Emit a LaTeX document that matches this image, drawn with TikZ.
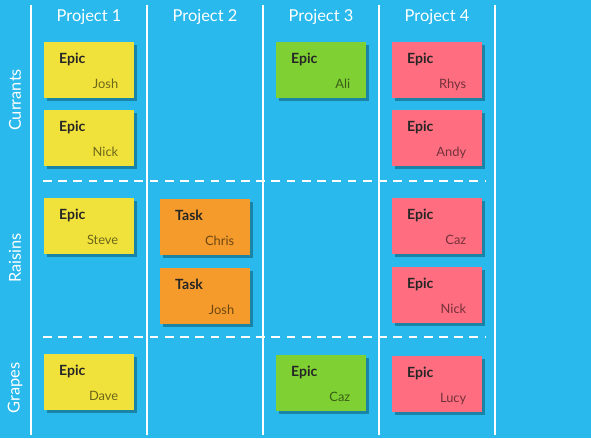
\documentclass[tikz,border=0pt]{standalone}
\usepackage{fontspec}
\setmainfont{Lato}
\usetikzlibrary{shadows}

\definecolor{boardblue}{HTML}{29B9EC}
\definecolor{shadowblue}{HTML}{1A84A6}
\definecolor{epicyellow}{HTML}{F1E23B}
\definecolor{taskorange}{HTML}{F59B2B}
\definecolor{epicgreen}{HTML}{7FD133}
\definecolor{epicpink}{HTML}{FF6E80}

\tikzset{
  card/.style={
    rectangle, anchor=north west, inner sep=0pt,
    minimum width=2.7cm, minimum height=1.68cm,
    drop shadow={shadow xshift=2.5pt, shadow yshift=-2.5pt,
      opacity=1, fill=shadowblue}
  },
  kindlabel/.style={anchor=base west, inner sep=0pt,
    font=\fontsize{12}{14}\selectfont\bfseries, text=black!85},
  wholabel/.style={anchor=base east, inner sep=0pt,
    font=\fontsize{11}{13}\selectfont},
  heading/.style={anchor=base, inner sep=0pt, text=white,
    font=\fontsize{14}{16}\selectfont},
  rowlabel/.style={rotate=90, inner sep=0pt, text=white,
    font=\fontsize{14}{16}\selectfont},
  lane/.style={white, line width=2.4pt},
  swim/.style={white, line width=1.6pt, dash pattern=on 7.5pt off 5.5pt}
}

\begin{document}
\begin{tikzpicture}[
  x=0.03cm,
  y=-0.03cm
]

%--------------------
% Fondo
%--------------------
\fill[boardblue] (0,0) rectangle (591,438);
\useasboundingbox (0,0) rectangle (591,438);

%--------------------
% Columnas
%--------------------
\foreach \lx [count=\i] in {31,147,263,379,495} {
  \coordinate (top\i) at (\lx,5);
  \coordinate (bot\i) at (\lx,435);
  \draw[lane] (top\i) -- (bot\i);
}

%--------------------
% Separadores de filas
%--------------------
\coordinate (sepAw) at (43,181);
\coordinate (sepAe) at (486,181);
\coordinate (sepBw) at (43,337);
\coordinate (sepBe) at (486,337);
\draw[swim] (sepAw) -- (sepAe);
\draw[swim] (sepBw) -- (sepBe);

%--------------------
% Cabeceras
%--------------------
\foreach \hx/\n in {89/1,205/2,321/3,437/4} {
  \node[heading] (head\n) at (\hx,21) {Project \n};
}

\node[rowlabel] (currants) at (15,100) {Currants};
\node[rowlabel] (raisins)  at (15,258) {Raisins};
\node[rowlabel] (grapes)   at (15,388) {Grapes};

%--------------------
% Tarjetas
%--------------------
\foreach \cx/\cy/\col/\kind/\who/\id in {
  44/42/epicyellow/Epic/Josh/joshA,
  44/110/epicyellow/Epic/Nick/nickA,
  44/198/epicyellow/Epic/Steve/steve,
  44/354/epicyellow/Epic/Dave/dave,
  160/199/taskorange/Task/Chris/chris,
  160/268/taskorange/Task/Josh/joshB,
  276/42/epicgreen/Epic/Ali/ali,
  276/355/epicgreen/Epic/Caz/cazA,
  392/42/epicpink/Epic/Rhys/rhys,
  392/110/epicpink/Epic/Andy/andy,
  392/198/epicpink/Epic/Caz/cazB,
  392/267/epicpink/Epic/Nick/nickB,
  392/356/epicpink/Epic/Lucy/lucy} {
  \node[card, fill=\col] (\id) at (\cx,\cy) {};
  \node[kindlabel] (\id-kind) at ([shift={(0.45cm,-0.63cm)}]\id.north west) {\kind};
  \node[wholabel, text=\col!45!black] (\id-who)
    at ([shift={(-0.48cm,0.3cm)}]\id.south east) {\who};
}

\end{tikzpicture}
\end{document}
